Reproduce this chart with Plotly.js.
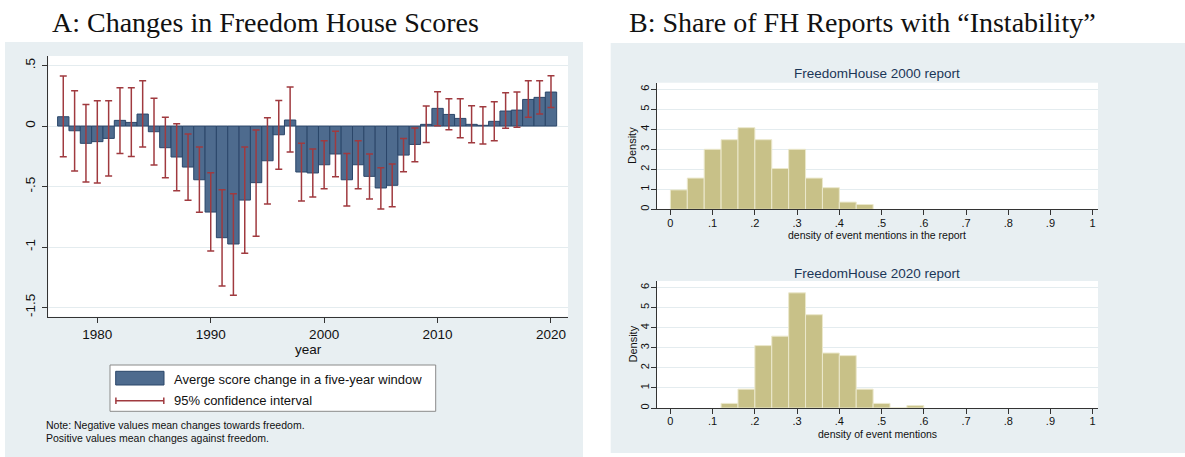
<!DOCTYPE html>
<html>
<head>
<meta charset="utf-8">
<script src="https://cdn.plot.ly/plotly-3.0.1.min.js"></script>
<style>html,body{margin:0;padding:0;background:#fff;}#chart{width:1185px;height:457px;}</style>
</head>
<body>
<div id="chart"></div>
<script>
// ---------- Panel A data ----------
const years = [1977,1978,1979,1980,1981,1982,1983,1984,1985,1986,1987,1988,1989,1990,1991,1992,1993,1994,1995,1996,1997,1998,1999,2000,2001,2002,2003,2004,2005,2006,2007,2008,2009,2010,2011,2012,2013,2014,2015,2016,2017,2018,2019,2020];
const scoreChange = [0.077,-0.039,-0.143,-0.129,-0.102,0.047,0.030,0.099,-0.047,-0.179,-0.256,-0.339,-0.444,-0.711,-0.923,-0.975,-0.612,-0.468,-0.287,-0.072,0.050,-0.380,-0.388,-0.320,-0.231,-0.444,-0.320,-0.416,-0.512,-0.490,-0.240,-0.152,0.014,0.146,0.096,0.063,0.014,0.006,0.039,0.124,0.132,0.220,0.237,0.281];
const ciHigh = [0.413,0.292,0.179,0.209,0.209,0.317,0.317,0.375,0.229,0.072,0.019,-0.066,-0.174,-0.386,-0.526,-0.559,-0.174,-0.033,0.069,0.212,0.322,-0.143,-0.190,-0.121,-0.044,-0.226,-0.121,-0.231,-0.344,-0.314,-0.102,-0.017,0.165,0.284,0.226,0.226,0.168,0.160,0.201,0.275,0.281,0.375,0.375,0.416];
const ciLow = [-0.253,-0.372,-0.463,-0.471,-0.413,-0.226,-0.251,-0.174,-0.322,-0.427,-0.534,-0.614,-0.713,-1.033,-1.322,-1.399,-1.052,-0.912,-0.645,-0.358,-0.215,-0.620,-0.587,-0.518,-0.419,-0.661,-0.518,-0.603,-0.686,-0.667,-0.377,-0.295,-0.135,0.003,-0.030,-0.096,-0.138,-0.149,-0.121,-0.019,-0.011,0.072,0.099,0.154];
const yearTicks = [1980,1990,2000,2010,2020];
const scoreTickVals = [-1.5,-1,-0.5,0,0.5];
const scoreTickText = ['-1.5','-1','-.5','0','.5'];

// ---------- Panel B data ----------
const binWidth = 0.04;
const bins2000 = [0,0.04,0.08,0.12,0.16,0.20,0.24,0.28,0.32,0.36,0.40,0.44];
const dens2000 = [0.97,1.56,3.0,3.48,4.08,3.48,2.04,3.0,1.56,1.08,0.36,0.24];
const bins2020 = [0.12,0.16,0.20,0.24,0.28,0.32,0.36,0.40,0.44,0.48,0.52,0.56];
const dens2020 = [0.23,0.94,3.11,3.58,5.74,4.65,2.74,2.61,0.94,0.23,0,0.12];
const shareTickVals = [0,0.1,0.2,0.3,0.4,0.5,0.6,0.7,0.8,0.9,1];
const shareTickText = ['0','.1','.2','.3','.4','.5','.6','.7','.8','.9','1'];
const densTickVals = [0,1,2,3,4,5,6];

// ---------- styling ----------
const W = 1185, H = 457;
const px = v => v / W;
const py = v => 1 - v / H;
const panelBg = '#e8eff2';
const gridC = '#e4ecef';
const axisC = '#333333';
const barFill = '#4e6b8e';
const barLine = '#2b4669';
const ciColor = '#a03a3f';
const histFill = '#c8c188';
const histLine = '#ebe8cc';
const navyTitle = '#1b3657';
const sans = 'Liberation Sans, Arial, sans-serif';
const serif = 'Liberation Serif, Times New Roman, serif';

const traces = [
  {
    type: 'bar', x: years, y: scoreChange, width: 1,
    xaxis: 'x', yaxis: 'y',
    marker: {color: barFill, line: {color: barLine, width: 1}},
    error_y: {
      type: 'data', symmetric: false,
      array: scoreChange.map((v, i) => ciHigh[i] - v),
      arrayminus: scoreChange.map((v, i) => v - ciLow[i]),
      color: ciColor, thickness: 1.5, width: 3.5
    },
    hoverinfo: 'x+y'
  },
  {
    type: 'bar', x: bins2000, y: dens2000, width: binWidth, offset: 0,
    xaxis: 'x2', yaxis: 'y2',
    marker: {color: histFill, line: {color: histLine, width: 1}}
  },
  {
    type: 'bar', x: bins2020, y: dens2020, width: binWidth, offset: 0,
    xaxis: 'x3', yaxis: 'y3',
    marker: {color: histFill, line: {color: histLine, width: 1}}
  }
];

const histX = (dom, anchor) => ({
  domain: dom, anchor: anchor, range: [-0.0325, 1.0126],
  tickvals: shareTickVals, ticktext: shareTickText,
  ticks: 'outside', ticklen: 5, tickcolor: axisC, tickwidth: 1,
  showline: true, linecolor: axisC, linewidth: 1,
  showgrid: false, zeroline: false,
  tickfont: {family: sans, size: 11, color: '#111'}, ticklabelstandoff: -2
});
const histY = (dom, anchor) => ({
  domain: dom, anchor: anchor, range: [0, 6.33],
  tickvals: densTickVals, tickangle: -90,
  ticks: 'outside', ticklen: 5, tickcolor: axisC, tickwidth: 1,
  showline: true, linecolor: axisC, linewidth: 1,
  showgrid: true, gridcolor: gridC, gridwidth: 1, zeroline: false,
  tickfont: {family: sans, size: 11, color: '#111'}, ticklabelstandoff: -3
});

const layout = {
  width: W, height: H,
  margin: {l: 0, r: 0, t: 0, b: 0},
  paper_bgcolor: '#ffffff', plot_bgcolor: 'rgba(0,0,0,0)',
  showlegend: false, bargap: 0,
  font: {family: sans, color: '#111'},
  xaxis: {
    domain: [px(48.3), px(568)], anchor: 'y', range: [1975.68, 2021.5],
    tickvals: yearTicks, ticks: 'outside', ticklen: 5, tickcolor: axisC,
    showline: true, linecolor: axisC, linewidth: 1,
    showgrid: false, zeroline: false,
    tickfont: {family: sans, size: 13.5, color: '#111'}
  },
  yaxis: {
    domain: [py(316.7), py(56)], anchor: 'x', range: [-1.576, 0.579],
    tickvals: scoreTickVals, ticktext: scoreTickText, tickangle: -90,
    ticks: 'outside', ticklen: 5, tickcolor: axisC,
    showline: true, linecolor: axisC, linewidth: 1,
    showgrid: true, gridcolor: gridC, gridwidth: 1, zeroline: false,
    tickfont: {family: sans, size: 13.5, color: '#111'}, ticklabelstandoff: 2
  },
  xaxis2: histX([px(656.7), px(1098)], 'y2'),
  yaxis2: histY([py(209.3), py(82.7)], 'x2'),
  xaxis3: histX([px(656.7), px(1098)], 'y3'),
  yaxis3: histY([py(408), py(281)], 'x3'),
  shapes: [
    // panel backgrounds
    {type: 'rect', xref: 'paper', yref: 'paper', x0: px(5), x1: px(583), y0: 0, y1: py(42), fillcolor: panelBg, line: {width: 0}, layer: 'below'},
    {type: 'rect', xref: 'paper', yref: 'paper', x0: px(610.7), x1: 1, y0: py(453), y1: py(43), fillcolor: panelBg, line: {width: 0}, layer: 'below'},
    // white plot regions
    {type: 'rect', xref: 'paper', yref: 'paper', x0: px(48.3), x1: px(568), y0: py(316.7), y1: py(56), fillcolor: '#ffffff', line: {width: 0}, layer: 'below'},
    {type: 'rect', xref: 'paper', yref: 'paper', x0: px(656.7), x1: px(1098), y0: py(209.3), y1: py(82.7), fillcolor: '#ffffff', line: {width: 0}, layer: 'below'},
    {type: 'rect', xref: 'paper', yref: 'paper', x0: px(656.7), x1: px(1098), y0: py(408), y1: py(281), fillcolor: '#ffffff', line: {width: 0}, layer: 'below'},
    // legend box
    {type: 'rect', xref: 'paper', yref: 'paper', x0: px(110), x1: px(435.7), y0: py(411.3), y1: py(365), fillcolor: '#ffffff', line: {color: '#8a8a8a', width: 1}, layer: 'below'},
    {type: 'rect', xref: 'paper', yref: 'paper', x0: px(115.7), x1: px(164), y0: py(385), y1: py(371.3), fillcolor: barFill, line: {color: barLine, width: 1}},
    {type: 'line', xref: 'paper', yref: 'paper', x0: px(115.7), x1: px(164), y0: py(400.7), y1: py(400.7), line: {color: ciColor, width: 1.5}},
    {type: 'line', xref: 'paper', yref: 'paper', x0: px(115.9), x1: px(115.9), y0: py(397.5), y1: py(404), line: {color: ciColor, width: 1.5}},
    {type: 'line', xref: 'paper', yref: 'paper', x0: px(163.8), x1: px(163.8), y0: py(397.5), y1: py(404), line: {color: ciColor, width: 1.5}}
  ],
  annotations: [
    {text: 'A: Changes in Freedom House Scores', x: px(265), y: py(22), xref: 'paper', yref: 'paper', xanchor: 'center', yanchor: 'middle', showarrow: false, font: {family: serif, size: 28, color: '#111'}},
    {text: 'B: Share of FH Reports with \u201cInstability\u201d', x: px(862), y: py(22), xref: 'paper', yref: 'paper', xanchor: 'center', yanchor: 'middle', showarrow: false, font: {family: serif, size: 28, color: '#111'}},
    {text: 'year', x: px(308), y: py(349), xref: 'paper', yref: 'paper', xanchor: 'center', yanchor: 'middle', showarrow: false, font: {family: sans, size: 13.5, color: '#111'}},
    {text: 'Averge score change in a five-year window', x: px(172.3), y: py(379), xref: 'paper', yref: 'paper', xanchor: 'left', yanchor: 'middle', showarrow: false, font: {family: sans, size: 13, color: '#111'}},
    {text: '95% confidence interval', x: px(172.3), y: py(400.5), xref: 'paper', yref: 'paper', xanchor: 'left', yanchor: 'middle', showarrow: false, font: {family: sans, size: 13, color: '#111'}},
    {text: 'Note: Negative values mean changes towards freedom.', x: px(44), y: py(425), xref: 'paper', yref: 'paper', xanchor: 'left', yanchor: 'middle', showarrow: false, font: {family: sans, size: 10.5, color: '#111'}},
    {text: 'Positive values mean changes against freedom.', x: px(44), y: py(437.5), xref: 'paper', yref: 'paper', xanchor: 'left', yanchor: 'middle', showarrow: false, font: {family: sans, size: 10.5, color: '#111'}},
    {text: 'FreedomHouse 2000 report', x: px(877), y: py(73), xref: 'paper', yref: 'paper', xanchor: 'center', yanchor: 'middle', showarrow: false, font: {family: sans, size: 13.5, color: navyTitle}},
    {text: 'FreedomHouse 2020 report', x: px(877), y: py(273), xref: 'paper', yref: 'paper', xanchor: 'center', yanchor: 'middle', showarrow: false, font: {family: sans, size: 13.5, color: navyTitle}},
    {text: 'density of event mentions in the report', x: px(877), y: py(235), xref: 'paper', yref: 'paper', xanchor: 'center', yanchor: 'middle', showarrow: false, font: {family: sans, size: 10.5, color: '#111'}},
    {text: 'density of event mentions', x: px(877), y: py(434), xref: 'paper', yref: 'paper', xanchor: 'center', yanchor: 'middle', showarrow: false, font: {family: sans, size: 10.5, color: '#111'}},
    {text: 'Density', x: px(632), y: py(146), xref: 'paper', yref: 'paper', xanchor: 'center', yanchor: 'middle', textangle: -90, showarrow: false, font: {family: sans, size: 11, color: '#111'}},
    {text: 'Density', x: px(632), y: py(344.5), xref: 'paper', yref: 'paper', xanchor: 'center', yanchor: 'middle', textangle: -90, showarrow: false, font: {family: sans, size: 11, color: '#111'}}
  ]
};

Plotly.newPlot('chart', traces, layout, {displayModeBar: false, staticPlot: true});
</script>
</body>
</html>
